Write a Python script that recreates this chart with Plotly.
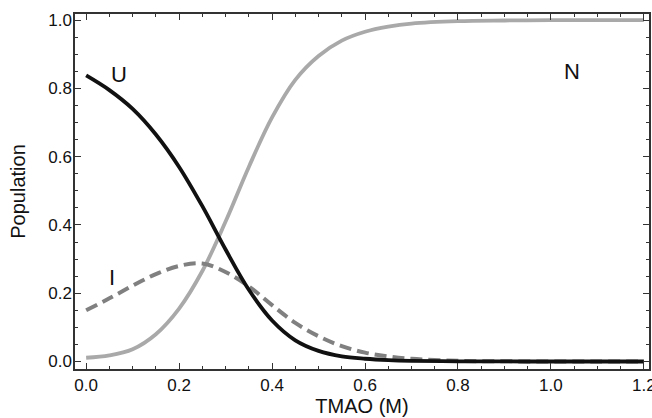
import plotly.graph_objects as go

tmao = [0.0, 0.05, 0.1, 0.15, 0.2, 0.25, 0.3, 0.35, 0.4, 0.45, 0.5, 0.55, 0.6, 0.65, 0.7, 0.8, 0.9, 1.0, 1.1, 1.2]
pop_U = [0.838, 0.795, 0.74, 0.665, 0.57, 0.455, 0.328, 0.21, 0.12, 0.062, 0.031, 0.015, 0.008, 0.004, 0.002, 0.0005, 0.0001, 0.0, 0.0, 0.0]
pop_I = [0.15, 0.185, 0.222, 0.256, 0.28, 0.287, 0.262, 0.22, 0.165, 0.113, 0.074, 0.045, 0.026, 0.015, 0.008, 0.002, 0.0005, 0.0001, 0.0, 0.0]
pop_N = [0.011, 0.018, 0.036, 0.08, 0.155, 0.265, 0.41, 0.57, 0.715, 0.825, 0.895, 0.94, 0.966, 0.981, 0.99, 0.997, 0.999, 1.0, 1.0, 1.0]

labels = ["U", "I", "N"]
label_x = [0.07, 0.055, 1.045]
label_y = [0.84, 0.245, 0.85]

FONT = "Liberation Sans, Arial, sans-serif"

fig = go.Figure()
fig.add_trace(go.Scatter(x=tmao, y=pop_N, mode="lines", line=dict(color="#a9a9a9", width=3.8, shape="spline"), showlegend=False))
fig.add_trace(go.Scatter(x=tmao, y=pop_I, mode="lines", line=dict(color="#808080", width=4, dash="12px,6px", shape="spline"), showlegend=False))
fig.add_trace(go.Scatter(x=tmao, y=pop_U, mode="lines", line=dict(color="#111111", width=3.8, shape="spline"), showlegend=False))

for t, xx, yy in zip(labels, label_x, label_y):
    fig.add_annotation(x=xx, y=yy, text=t, showarrow=False, font=dict(family=FONT, size=22, color="#111111"))

axis_common = dict(
    showline=True, linecolor="#333333", linewidth=1.5, mirror="allticks",
    ticks="inside", ticklen=6, tickwidth=1.2, tickcolor="#333333",
    showgrid=False, zeroline=False, ticklabeloverflow="allow", automargin=False,
    tickfont=dict(family=FONT, size=17, color="#111111"),
    title_font=dict(family=FONT, size=20, color="#111111"),
)

fig.update_xaxes(range=[-0.024, 1.211], tickvals=[0, 0.2, 0.4, 0.6, 0.8, 1.0, 1.2],
                 ticktext=["0.0", "0.2", "0.4", "0.6", "0.8", "1.0", "1.2"],
                 minor=dict(dtick=0.05, tick0=0, ticks="inside", ticklen=3, tickcolor="#333333"),
                 title_text="TMAO (M)", title_standoff=2, **axis_common)
fig.update_yaxes(range=[-0.022, 1.018], tickvals=[0, 0.2, 0.4, 0.6, 0.8, 1.0],
                 ticktext=["0.0", "0.2", "0.4", "0.6", "0.8", "1.0"],
                 minor=dict(dtick=0.05, tick0=0, ticks="inside", ticklen=3, tickcolor="#333333"),
                 ticklabelstandoff=-2,
                 title_text="Population", title_standoff=17, **axis_common)

fig.update_layout(width=652, height=418, margin=dict(l=75, r=3, t=14, b=49),
                  plot_bgcolor="white", paper_bgcolor="white")

fig.write_html("out.html", config={"displayModeBar": False})

with open("out.html", "r", encoding="utf-8") as f:
    html = f.read()
html = html.replace("<head>", "<head><style>html,body{margin:0;padding:0;overflow:hidden;}</style>", 1)
with open("out.html", "w", encoding="utf-8") as f:
    f.write(html)
